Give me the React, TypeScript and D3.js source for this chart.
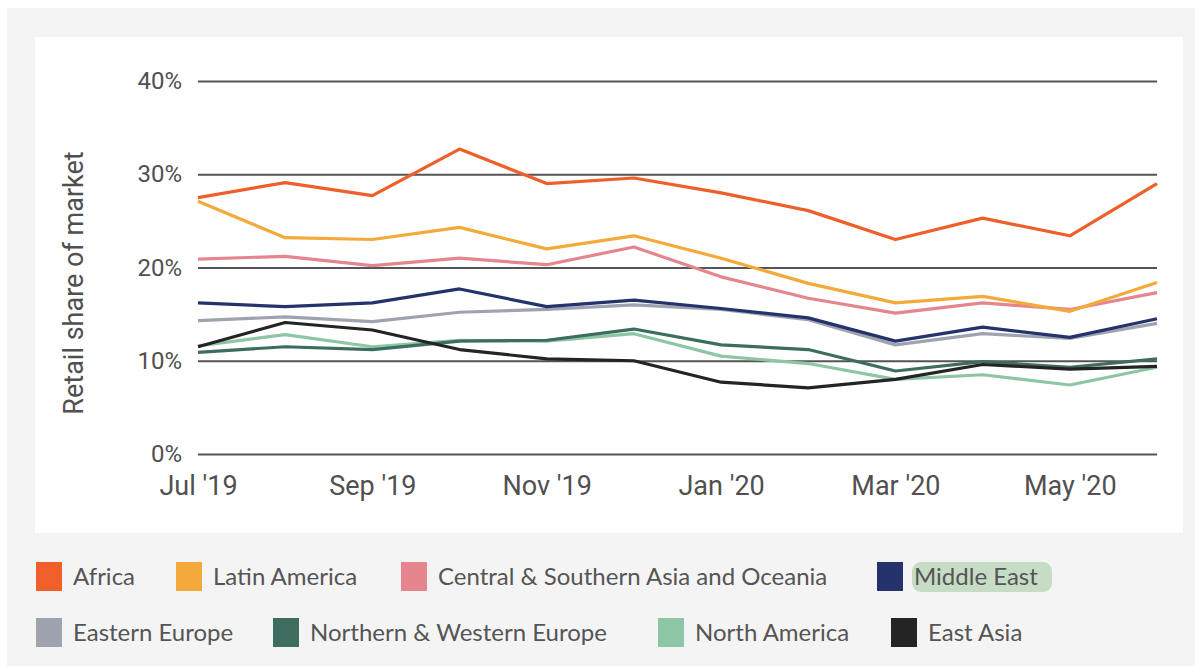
import { useEffect, useRef } from "react";
import * as d3 from "d3";

const WIDTH = 1195;
const HEIGHT = 666;
const MARGIN = { top: 81, right: 38, bottom: 212, left: 198 };

const months = [
  "Jul '19", "Aug '19", "Sep '19", "Oct '19", "Nov '19", "Dec '19",
  "Jan '20", "Feb '20", "Mar '20", "Apr '20", "May '20", "Jun '20",
];
const tickMonths = ["Jul '19", "Sep '19", "Nov '19", "Jan '20", "Mar '20", "May '20"];
const yTicks = [0, 10, 20, 30, 40];

// retail share of market, % per month
const africa = [27.5, 29.1, 27.7, 32.7, 29.0, 29.6, 28.0, 26.1, 23.0, 25.3, 23.4, 29.0];
const latinAmerica = [27.1, 23.2, 23.0, 24.3, 22.0, 23.4, 21.0, 18.3, 16.2, 16.9, 15.3, 18.4];
const centralSouthAsia = [20.9, 21.2, 20.2, 21.0, 20.3, 22.2, 19.0, 16.7, 15.1, 16.2, 15.5, 17.3];
const middleEast = [16.2, 15.8, 16.2, 17.7, 15.8, 16.5, 15.6, 14.6, 12.1, 13.6, 12.5, 14.5];
const easternEurope = [14.3, 14.7, 14.2, 15.2, 15.5, 16.0, 15.5, 14.4, 11.7, 12.9, 12.4, 14.0];
const northWestEurope = [10.9, 11.5, 11.2, 12.1, 12.2, 13.4, 11.7, 11.2, 8.9, 9.9, 9.3, 10.2];
const northAmerica = [11.6, 12.8, 11.5, 12.2, 12.1, 12.9, 10.5, 9.7, 8.0, 8.5, 7.4, 9.3];
const eastAsia = [11.5, 14.1, 13.3, 11.2, 10.2, 10.0, 7.7, 7.1, 8.0, 9.6, 9.1, 9.4];

const regions = [
  "Africa", "Latin America", "Central & Southern Asia and Oceania", "Middle East",
  "Eastern Europe", "Northern & Western Europe", "North America", "East Asia",
];
const colors = [
  "#ef5f2a", "#f3aa3a", "#e5868e", "#25336d",
  "#9fa3af", "#3c6d5f", "#8dc6a4", "#242424",
];
const values = [
  africa, latinAmerica, centralSouthAsia, middleEast,
  easternEurope, northWestEurope, northAmerica, eastAsia,
];
// bottom-most lines are drawn first
const drawOrder = [4, 6, 5, 7, 3, 2, 1, 0];

// legend slots: two rows of four
const LEGEND_ROWS = [562, 618];
const LEGEND_X = [36, 176, 401, 877, 36, 273, 658, 891];
const HIGHLIGHT = "Middle East";

export default function App() {
  const xAxisRef = useRef<SVGGElement>(null);
  const yAxisRef = useRef<SVGGElement>(null);

  const x = d3
    .scalePoint<string>()
    .domain(months)
    .range([MARGIN.left, WIDTH - MARGIN.right]);
  const y = d3
    .scaleLinear()
    .domain([0, 40])
    .range([HEIGHT - MARGIN.bottom, MARGIN.top]);

  const line = d3
    .line<number>()
    .x((_, i) => x(months[i]) as number)
    .y((d) => y(d));

  useEffect(() => {
    const gy = d3.select(yAxisRef.current);
    gy.selectAll("*").remove();
    gy.call(
      d3
        .axisLeft(y)
        .tickValues(yTicks)
        .tickFormat((d) => `${d}%`)
        .tickSize(-(WIDTH - MARGIN.left - MARGIN.right))
        .tickPadding(16)
    );
    gy.select(".domain").remove();
    gy.attr("font-family", "Roboto, sans-serif").attr("font-size", 24);
    gy.selectAll(".tick line").attr("stroke", "#555").attr("stroke-width", 1.8);
    gy.selectAll(".tick text").attr("fill", "#505050");

    const gx = d3.select(xAxisRef.current);
    gx.selectAll("*").remove();
    gx.call(d3.axisBottom(x).tickValues(tickMonths).tickSize(0).tickPadding(22));
    gx.select(".domain").remove();
    gx.attr("font-family", "Roboto, sans-serif").attr("font-size", 27);
    gx.selectAll(".tick text").attr("fill", "#505050");
  }, []);

  return (
    <svg
      width={WIDTH}
      height={HEIGHT}
      style={{ position: "absolute", left: 0, top: 0, background: "#fff" }}
    >
      <rect x={7} y={8} width={WIDTH - 7} height={HEIGHT - 8} fill="#f4f4f4" />
      <rect x={35} y={37} width={1148} height={496} fill="#fff" />

      <g ref={yAxisRef} transform={`translate(${MARGIN.left},0)`} />
      <g ref={xAxisRef} transform={`translate(0,${HEIGHT - MARGIN.bottom})`} />

      <text
        transform="translate(83,283) rotate(-90)"
        textAnchor="middle"
        fontFamily="Roboto, sans-serif"
        fontSize={27}
        fill="#505050"
      >
        Retail share of market
      </text>

      {drawOrder.map((k) => (
        <path
          key={regions[k]}
          d={line(values[k]) ?? ""}
          fill="none"
          stroke={colors[k]}
          strokeWidth={3.2}
          strokeLinejoin="round"
        />
      ))}

      <g fontFamily="Lato, sans-serif" fontSize={24} fill="#555">
        {regions.map((name, i) => {
          const sx = LEGEND_X[i];
          const sy = LEGEND_ROWS[Math.floor(i / 4)];
          return (
            <g key={name}>
              <rect x={sx} y={sy} width={26} height={29} fill={colors[i]} />
              {name === HIGHLIGHT && (
                <rect x={sx + 35} y={sy} width={140} height={30} rx={9} fill="#c6dcc5" />
              )}
              <text x={sx + 37} y={sy + 23}>
                {name}
              </text>
            </g>
          );
        })}
      </g>
    </svg>
  );
}
